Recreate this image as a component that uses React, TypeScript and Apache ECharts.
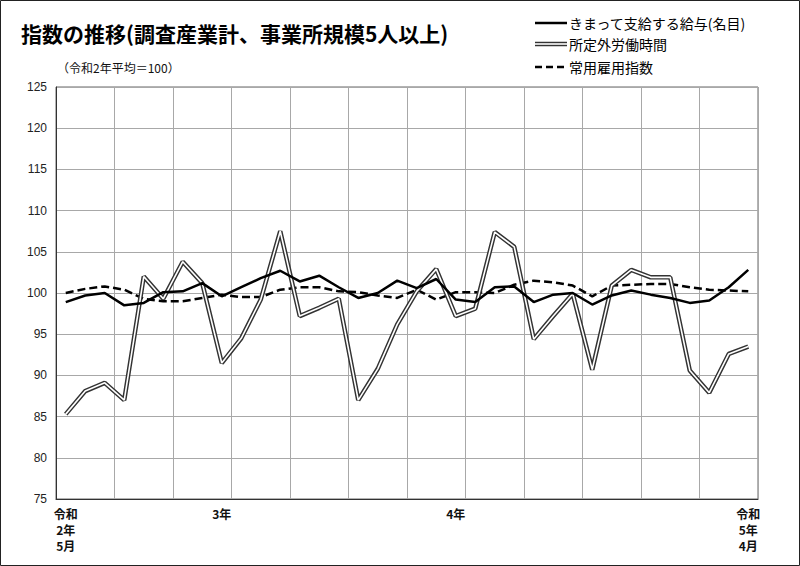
import React, { useEffect, useRef } from "react";
import * as echarts from "echarts";

const categories = [
  "R2.5", "R2.6", "R2.7", "R2.8", "R2.9", "R2.10", "R2.11", "R2.12",
  "R3.1", "R3.2", "R3.3", "R3.4", "R3.5", "R3.6", "R3.7", "R3.8", "R3.9", "R3.10", "R3.11", "R3.12",
  "R4.1", "R4.2", "R4.3", "R4.4", "R4.5", "R4.6", "R4.7", "R4.8", "R4.9", "R4.10", "R4.11", "R4.12",
  "R5.1", "R5.2", "R5.3", "R5.4",
];

const tickLabelIndices = [0, 8, 20, 35];
const tickLabelTexts = ["令和\n2年\n5月", "3年", "4年", "令和\n5年\n4月"];

const wage = [
  98.9, 99.7, 100.0, 98.5, 98.8, 100.1, 100.2, 101.2, 99.6, 100.7, 101.8, 102.7,
  101.4, 102.1, 100.7, 99.4, 100.0, 101.5, 100.6, 101.7, 99.2, 98.9, 100.7, 100.8,
  98.9, 99.8, 100.0, 98.6, 99.7, 100.3, 99.8, 99.4, 98.8, 99.1, 100.7, 102.8,
];

const overtime = [
  85.3, 88.1, 89.1, 87.0, 102.0, 99.3, 103.8, 101.2, 91.5, 94.5, 99.2, 107.5,
  97.2, 98.2, 99.3, 87.0, 90.8, 96.2, 100.2, 102.9, 97.2, 98.1, 107.4, 105.6,
  94.4, 97.2, 99.9, 90.7, 100.9, 102.8, 101.9, 101.9, 90.6, 87.9, 92.6, 93.5,
];

const employment = [
  100.0, 100.5, 100.8, 100.4, 99.3, 99.0, 99.0, 99.4, 99.8, 99.5, 99.5, 100.4,
  100.7, 100.7, 100.2, 100.1, 99.7, 99.4, 100.4, 99.2, 100.1, 100.1, 100.0, 101.0,
  101.5, 101.3, 100.9, 99.6, 100.9, 101.0, 101.1, 101.1, 100.7, 100.4, 100.3, 100.2,
];

const seriesNames = ["きまって支給する給与(名目)", "所定外労働時間", "常用雇用指数"];
const titleText = "指数の推移(調査産業計、事業所規模5人以上)";
const subtitleText = "（令和2年平均＝100）";

const JP = '"Noto Sans CJK JP", "Noto Sans", sans-serif';
const NUM = '"Liberation Sans", Arial, sans-serif';

export default function App() {
  const ref = useRef<HTMLDivElement>(null);

  useEffect(() => {
    if (!ref.current) return;
    const chart = echarts.init(ref.current, null, { renderer: "svg" });

    const legendX1 = 535;
    const legendX2 = 567;
    const legendYs = [23, 44, 67];

    chart.setOption({
      animation: false,
      backgroundColor: "#ffffff",
      grid: {
        left: 56,
        right: 42,
        top: 87,
        bottom: 67,
        show: true,
        borderColor: "#666",
        borderWidth: 1,
        containLabel: false,
      },
      xAxis: {
        type: "category",
        data: categories,
        boundaryGap: true,
        axisLine: { show: true, lineStyle: { color: "#333", width: 1 } },
        axisTick: { show: false, interval: (i: number) => i % 3 === 0 },
        splitLine: {
          show: true,
          interval: (i: number) => i % 3 === 0,
          lineStyle: { color: "#a8a8a8", width: 1 },
        },
        axisLabel: {
          interval: (i: number) => tickLabelIndices.includes(i),
          formatter: (_v: string, i: number) => {
            const k = tickLabelIndices.indexOf(i);
            return k >= 0 ? tickLabelTexts[k] : "";
          },
          fontFamily: JP,
          fontWeight: "bold",
          fontSize: 12,
          lineHeight: 16,
          color: "#111",
          margin: 6,
        },
      },
      yAxis: {
        type: "value",
        min: 75,
        max: 125,
        interval: 5,
        axisLine: { show: true, lineStyle: { color: "#333", width: 1 } },
        axisTick: { show: false },
        splitLine: { show: true, lineStyle: { color: "#a8a8a8", width: 1 } },
        axisLabel: {
          fontFamily: NUM,
          fontSize: 12,
          color: "#222",
          margin: 9,
        },
      },
      series: [
        {
          name: seriesNames[2],
          type: "line",
          data: employment,
          showSymbol: false,
          symbol: "none",
          lineStyle: { color: "#000", width: 2.5, type: [8, 4] },
          z: 2,
        },
        {
          name: seriesNames[1] + "_outer",
          type: "line",
          data: overtime,
          showSymbol: false,
          symbol: "none",
          lineStyle: { color: "#333", width: 4.5 },
          z: 3,
        },
        {
          name: seriesNames[1],
          type: "line",
          data: overtime,
          showSymbol: false,
          symbol: "none",
          lineStyle: { color: "#fff", width: 1.6 },
          z: 4,
        },
        {
          name: seriesNames[0],
          type: "line",
          data: wage,
          showSymbol: false,
          symbol: "none",
          lineStyle: { color: "#000", width: 2.5 },
          z: 5,
        },
      ],
      graphic: [
        {
          type: "rect",
          shape: { x: 0.5, y: 0.5, width: 799, height: 565 },
          style: { fill: "none", stroke: "#222", lineWidth: 1 },
          silent: true,
        },
        {
          type: "text",
          left: 21,
          top: 22,
          style: {
            text: titleText,
            font: `bold 21px ${JP}`,
            fill: "#000",
          },
        },
        {
          type: "text",
          left: 57,
          top: 61,
          style: {
            text: subtitleText,
            font: `12px ${JP}`,
            fill: "#111",
          },
        },
        // legend item 1: solid
        {
          type: "line",
          shape: { x1: legendX1, y1: legendYs[0], x2: legendX2, y2: legendYs[0] },
          style: { stroke: "#000", lineWidth: 2.5 },
        },
        {
          type: "text",
          x: legendX2 + 2,
          y: legendYs[0],
          style: { text: seriesNames[0], font: `14px ${JP}`, fill: "#000", verticalAlign: "middle" },
        },
        // legend item 2: double line
        {
          type: "line",
          shape: { x1: legendX1, y1: legendYs[1], x2: legendX2, y2: legendYs[1] },
          style: { stroke: "#333", lineWidth: 4.5 },
        },
        {
          type: "line",
          shape: { x1: legendX1, y1: legendYs[1], x2: legendX2, y2: legendYs[1] },
          style: { stroke: "#fff", lineWidth: 1.6 },
        },
        {
          type: "text",
          x: legendX2 + 2,
          y: legendYs[1],
          style: { text: seriesNames[1], font: `14px ${JP}`, fill: "#000", verticalAlign: "middle" },
        },
        // legend item 3: dashed
        {
          type: "line",
          shape: { x1: legendX1, y1: legendYs[2], x2: legendX2, y2: legendYs[2] },
          style: { stroke: "#000", lineWidth: 2.5, lineDash: [7, 4] },
        },
        {
          type: "text",
          x: legendX2 + 2,
          y: legendYs[2],
          style: { text: seriesNames[2], font: `14px ${JP}`, fill: "#000", verticalAlign: "middle" },
        },
      ],
    });

    return () => chart.dispose();
  }, []);

  return (
    <div
      ref={ref}
      style={{ position: "fixed", left: 0, top: 0, width: 800, height: 566 }}
    />
  );
}
